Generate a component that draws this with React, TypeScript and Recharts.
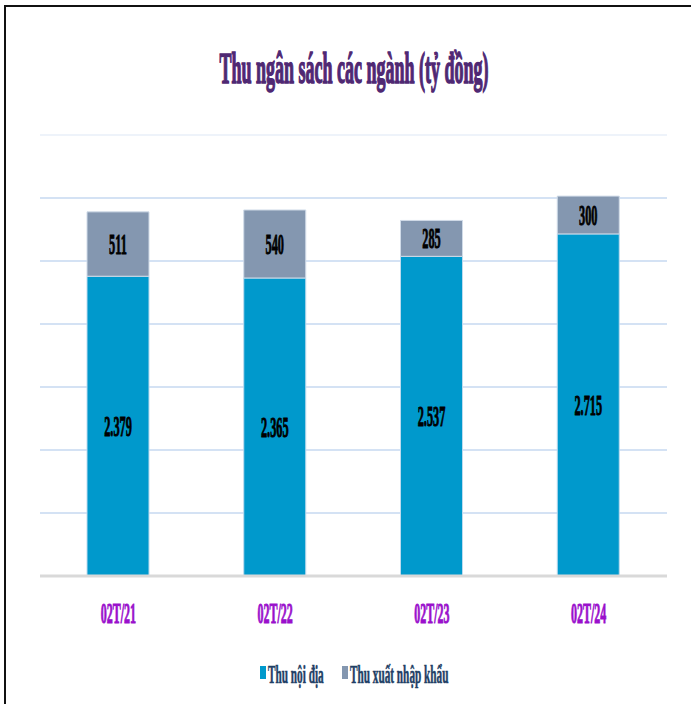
import React from 'react';
import { BarChart, Bar, XAxis, YAxis, CartesianGrid, ReferenceLine, LabelList } from 'recharts';

const periods = ['02T/21', '02T/22', '02T/23', '02T/24'];
const domestic = [2379, 2365, 2537, 2715];
const importExport = [511, 540, 285, 300];
const seriesNames = ['Thu nội địa', 'Thu xuất nhập khẩu'];
const yTicks = [0, 500, 1000, 1500, 2000, 2500, 3000];

const BLUE = '#0099cc';
const GRAY = '#8497b0';
const FONT = '"Liberation Serif", "Times New Roman", serif';

const data = periods.map((p, i) => ({ period: p, domestic: domestic[i], importExport: importExport[i] }));

// 2379 -> "2.379"
const fmt = (v: number) => String(v).replace(/\B(?=(\d{3})+(?!\d))/g, '.');

const SegmentLabel = (props: any) => {
  const { x, y, width, height, value } = props;
  const cx = Number(x) + Number(width) / 2;
  const cy = Number(y) + Number(height) / 2 + 10;
  return (
    <text
      transform={`translate(${cx},${cy}) scale(0.41,1)`}
      textAnchor="middle"
      fontSize={30}
      fontWeight="bold"
      fontFamily={FONT}
      fill="#000"
      stroke="#000"
      strokeWidth={1}
    >
      {fmt(value)}
    </text>
  );
};

const PeriodTick = (props: any) => {
  const { x, y, payload } = props;
  return (
    <text
      transform={`translate(${x},${y + 47}) scale(0.4,1)`}
      textAnchor="middle"
      fontSize={30}
      fontWeight="bold"
      fontFamily={FONT}
      fill="#9a10cc"
      stroke="#9a10cc"
      strokeWidth={1}
    >
      {payload.value}
    </text>
  );
};

export default function App() {
  return (
    <div style={{ position: 'absolute', left: 0, top: 0, width: 691, height: 704, background: '#fff', overflow: 'hidden' }}>
      <div
        style={{
          position: 'absolute', left: 4, top: 5, width: 700, height: 720,
          borderLeft: '2px solid #111', borderTop: '2px solid #111',
        }}
      />
      <svg width={691} height={110} style={{ position: 'absolute', left: 0, top: 0 }}>
        <text
          transform="translate(354,83) scale(0.4,1)"
          textAnchor="middle"
          fontSize={45}
          fontWeight="bold"
          fontFamily={FONT}
          fill="#4f2873"
          stroke="#4f2873"
          strokeWidth={1.6}
        >
          Thu ngân sách các ngành (tỷ đồng)
        </text>
      </svg>
      <div style={{ position: 'absolute', left: 0, top: 0 }}>
        <BarChart width={691} height={704} data={data} margin={{ top: 135, right: 24, bottom: 88, left: 40 }}>
          <CartesianGrid vertical={false} stroke="#c6d9f0" strokeWidth={1.5} />
          <ReferenceLine y={3500} stroke="#eef3fa" strokeWidth={2} />
          <YAxis hide domain={[0, 3500]} ticks={yTicks} />
          <XAxis
            dataKey="period"
            height={40}
            tickLine={false}
            tickSize={0}
            tickMargin={0}
            axisLine={{ stroke: '#d9d9d9', strokeWidth: 3 }}
            tick={<PeriodTick />}
          />
          <Bar dataKey="domestic" stackId="a" fill={BLUE} stroke="#bcdaee" strokeWidth={1} barSize={62} isAnimationActive={false}>
            <LabelList dataKey="domestic" content={<SegmentLabel />} />
          </Bar>
          <Bar dataKey="importExport" stackId="a" fill={GRAY} stroke="#d0dbe8" strokeWidth={1} barSize={62} isAnimationActive={false}>
            <LabelList dataKey="importExport" content={<SegmentLabel />} />
          </Bar>
        </BarChart>
      </div>
      <svg width={691} height={50} style={{ position: 'absolute', left: 0, top: 655 }}>
        {[BLUE, GRAY].map((c, i) => {
          const x0 = i === 0 ? 260 : 342;
          return (
            <g key={seriesNames[i]}>
              <rect x={x0} y={11} width={6} height={13} fill={c} />
              <text
                transform={`translate(${x0 + 8},28) scale(0.45,1)`}
                fontSize={25}
                fontWeight="bold"
                fontFamily={FONT}
                fill="#1f3f66"
                stroke="#1f3f66"
                strokeWidth={0.6}
              >
                {seriesNames[i]}
              </text>
            </g>
          );
        })}
      </svg>
    </div>
  );
}
